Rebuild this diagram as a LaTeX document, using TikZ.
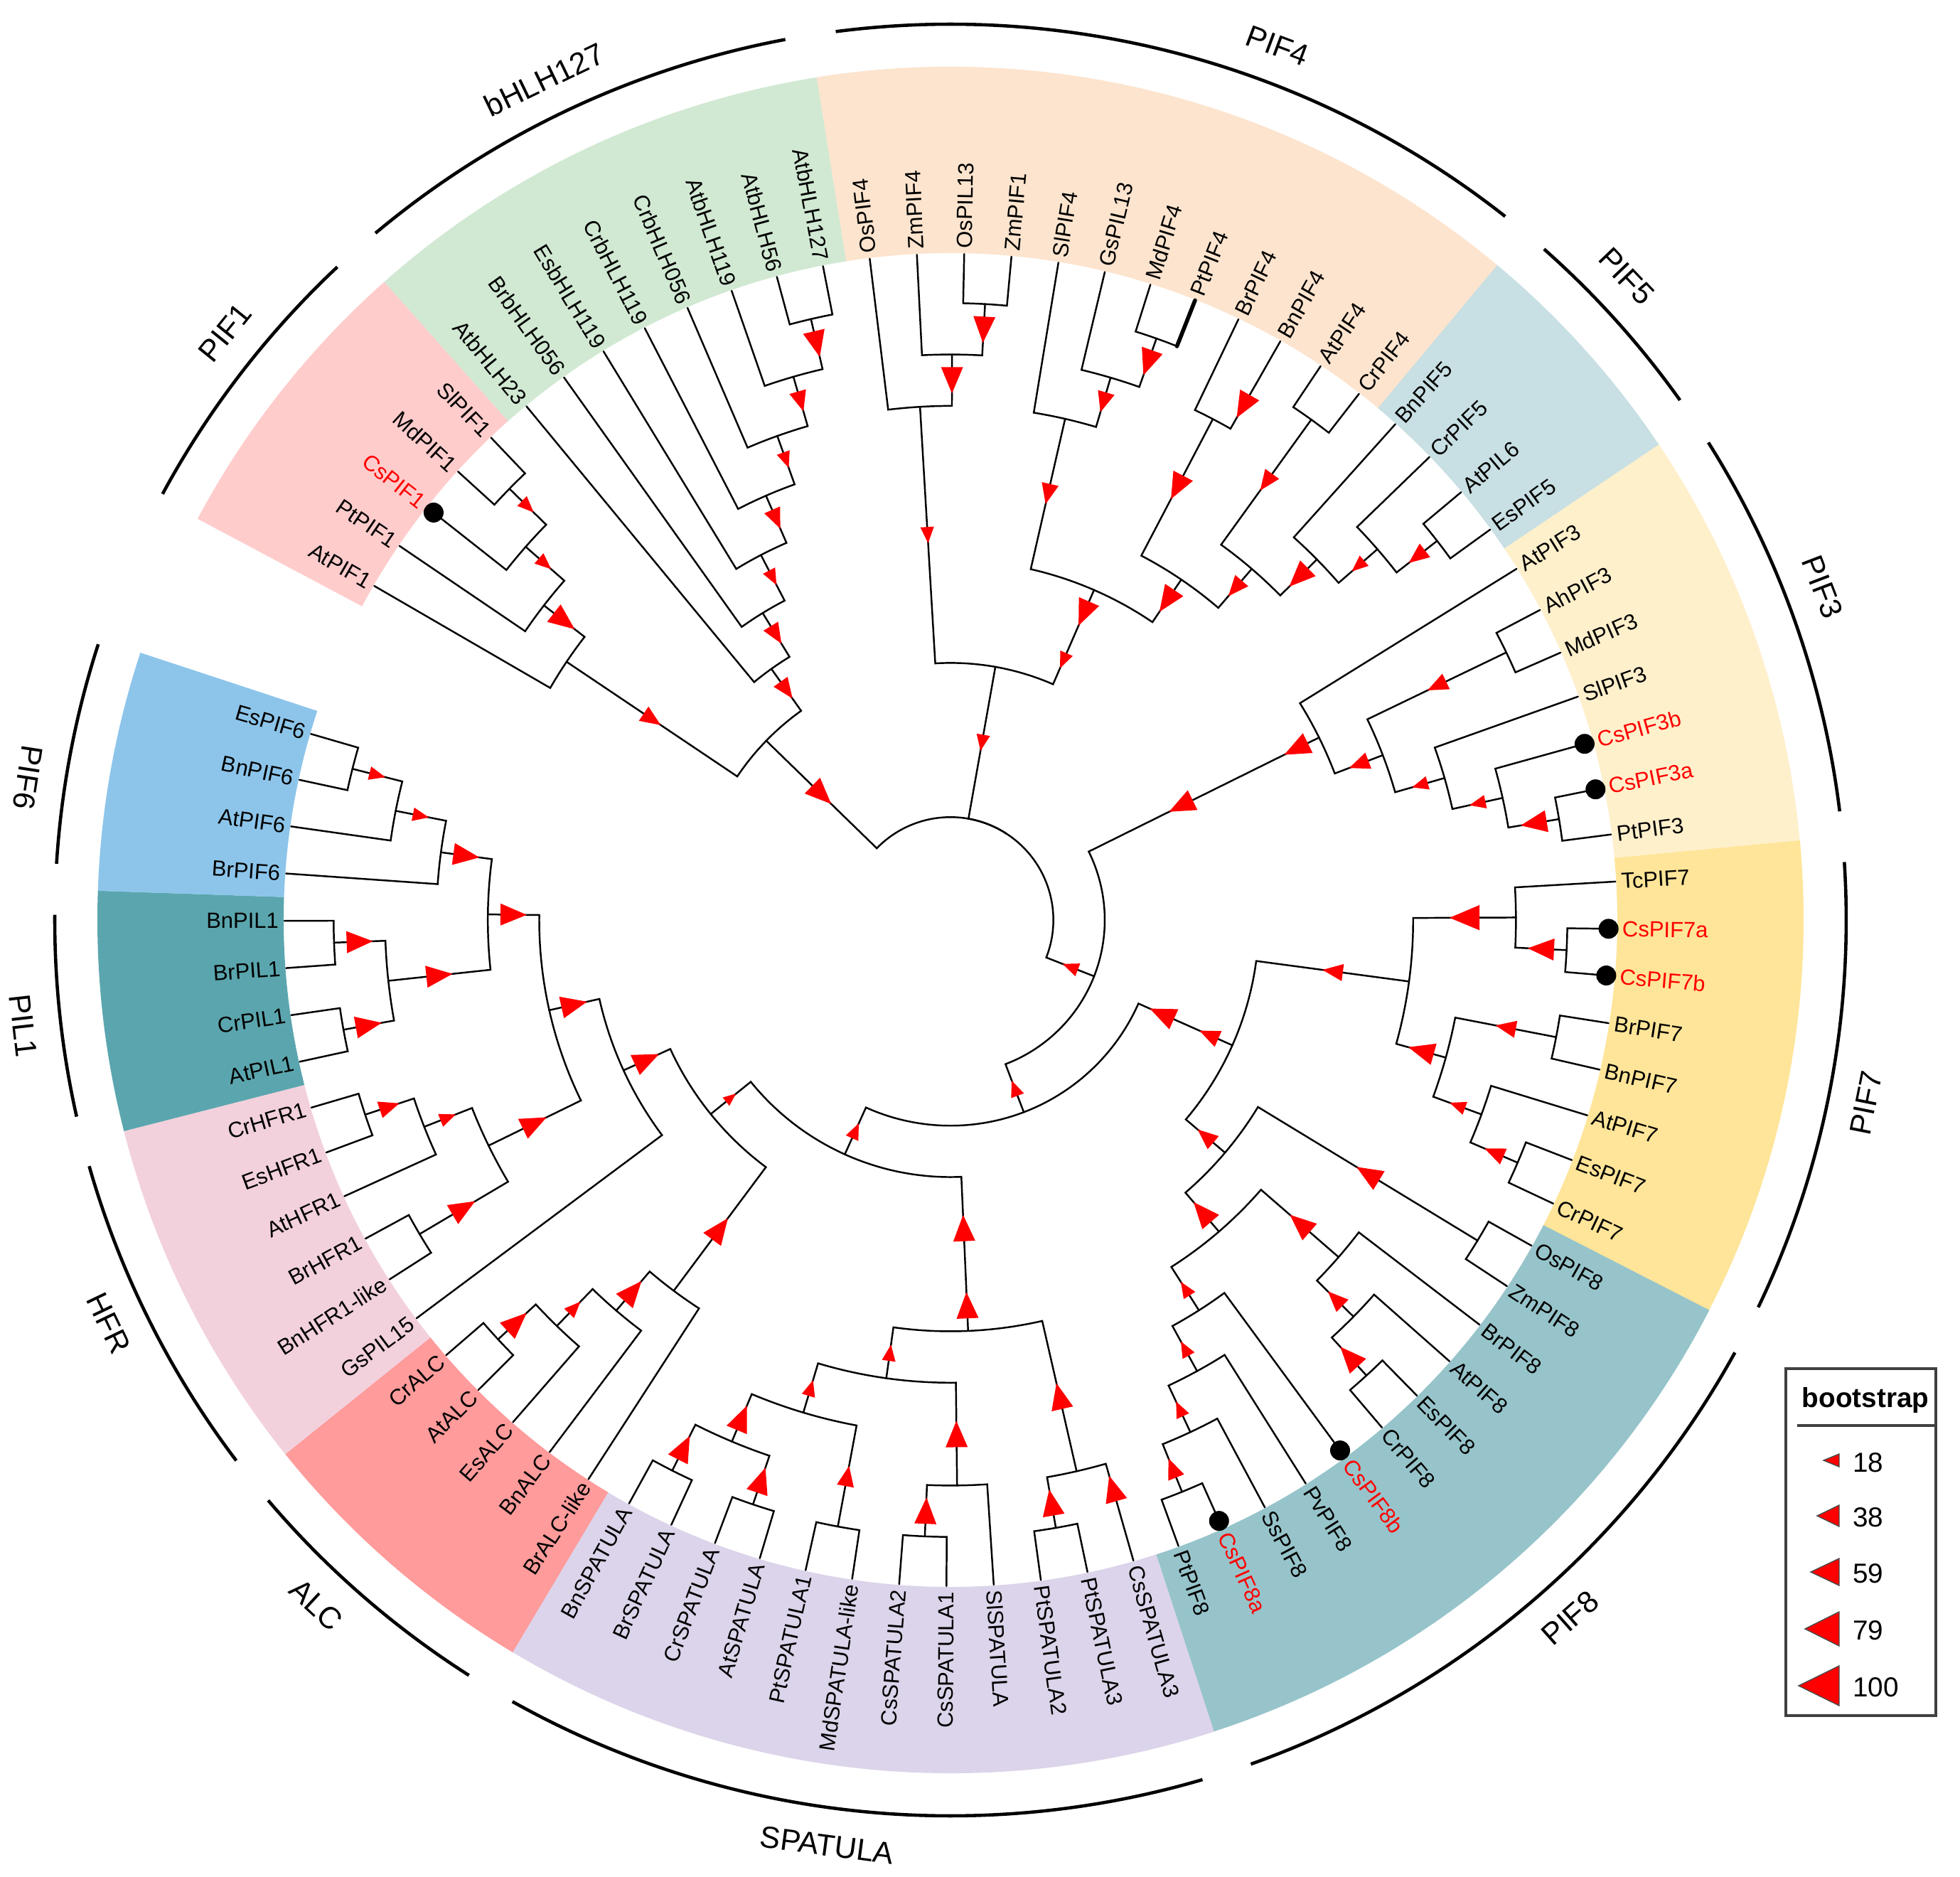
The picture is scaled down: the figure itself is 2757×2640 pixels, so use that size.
\documentclass[tikz,border=0pt]{standalone}
\usepackage{fontspec}
\setmainfont{Liberation Sans}
\usetikzlibrary{calc}
\definecolor{cpifone}{HTML}{FFCCCC}
\definecolor{cbhlh}{HTML}{D1E9D3}
\definecolor{cpiffour}{HTML}{FDE4CE}
\definecolor{cpiffive}{HTML}{C8DFE3}
\definecolor{cpifthree}{HTML}{FFF0CC}
\definecolor{cpifseven}{HTML}{FFE599}
\definecolor{cpifeight}{HTML}{96C4CA}
\definecolor{cspatula}{HTML}{DCD4EA}
\definecolor{calcband}{HTML}{FF9B9B}
\definecolor{chfr}{HTML}{F2D1DC}
\definecolor{cpilone}{HTML}{5BA6AE}
\definecolor{cpifsix}{HTML}{8DC5EA}
\definecolor{bootred}{HTML}{FF0000}
\tikzstyle{branch}=[to path={let \p1=(\tikztostart), \p2=(\tikztotarget),
    \n1={atan2(\y1,\x1)}, \n2={atan2(\y2,\x2)}, \n3={veclen(\x1,\y1)},
    \n4={\n2-\n1-360*round((\n2-\n1)/360)} in
    arc[start angle=\n1, delta angle=\n4, radius=\n3] -- (\tikztotarget)}]
\tikzstyle{leaf}=[inner sep=0pt, font=\fontsize{8.8}{10}\selectfont]
\tikzstyle{grp}=[inner sep=0pt, font=\fontsize{12.2}{14}\selectfont]
\tikzstyle{grp-arc}=[line width=1.3pt, line cap=butt]
\tikzstyle{legend}=[inner sep=0pt, font=\fontsize{11}{13}\selectfont]
\tikzstyle{legend-tri}=[fill=bootred, draw=black!70, line width=0.4pt, line join=miter]
\tikzset{pics/boot/.style={code={\fill[bootred] (-#1/2,0pt) -- (#1/2,0.42*#1) -- (#1/2,-0.42*#1) -- cycle;}}}
\newcommand{\boot}[3]{\path let \p1=(#1), \p2=(#2), \n1={atan2(\y1,\x1)},
    \n2={(veclen(\x1,\y1)+veclen(\x2,\y2))/2} in (\n1:\n2) pic[rotate=\n1] {boot=#3};}
\newcommand{\band}[3]{\fill[#3] (#1:938) arc[start angle=#1, end angle=#2, radius=9.38cm]
    -- (#2:1200) arc[start angle=#2, end angle=#1, radius=12cm] -- cycle;}
\begin{document}
\begin{tikzpicture}[x=0.01cm, y=0.01cm, line width=0.7pt, line cap=round]
\fill[white] (-1337,-1346) rectangle (1420,1294);
\useasboundingbox (-1337,-1346) rectangle (1420,1294);

\band{151.94}{131.57}{cpifone}
\band{131.57}{99.0}{cbhlh}
\band{99.0}{50.13}{cpiffour}
\band{50.13}{33.85}{cpiffive}
\band{33.85}{5.34}{cpifthree}
\band{5.34}{-27.23}{cpifseven}
\band{-27.23}{-72.03}{cpifeight}
\band{-72.03}{-120.89}{cspatula}
\band{-120.89}{-141.25}{calcband}
\band{-141.25}{-165.68}{chfr}
\band{-165.68}{-181.97}{cpilone}
\band{-181.97}{-198.26}{cpifsix}

\draw[grp-arc] (151.6:1260) arc[start angle=151.6, end angle=133.21, radius=12.6cm];
\node[grp, rotate=51] (gPIFone) at (141:1313) {PIF1};
\draw[grp-arc] (129.94:1260) arc[start angle=129.94, end angle=100.64, radius=12.6cm];
\node[grp, rotate=25.8] (gbHLH) at (115.8:1313) {bHLH127};
\draw[grp-arc] (97.36:1260) arc[start angle=97.36, end angle=51.77, radius=12.6cm];
\node[grp, rotate=-20.5] (gPIFfour) at (69.5:1313) {PIF4};
\draw[grp-arc] (48.5:1260) arc[start angle=48.5, end angle=35.48, radius=12.6cm];
\node[grp, rotate=-46.4] (gPIFfive) at (43.6:1313) {PIF5};
\draw[grp-arc] (32.21:1260) arc[start angle=32.21, end angle=6.98, radius=12.6cm];
\node[grp, rotate=-69.1] (gPIFthree) at (20.9:1313) {PIF3};
\draw[grp-arc] (3.71:1260) arc[start angle=3.71, end angle=-25.6, radius=12.6cm];
\node[grp, rotate=78.7] (gPIFseven) at (-11.3:1313) {PIF7};
\draw[grp-arc] (-28.87:1260) arc[start angle=-28.87, end angle=-70.39, radius=12.6cm];
\node[grp, rotate=41.6] (gPIFeight) at (-48.4:1313) {PIF8};
\draw[grp-arc] (-73.66:1260) arc[start angle=-73.66, end angle=-119.25, radius=12.6cm];
\node[grp, rotate=-7.6] (gSPATULA) at (-97.6:1313) {SPATULA};
\draw[grp-arc] (-122.52:1260) arc[start angle=-122.52, end angle=-139.61, radius=12.6cm];
\node[grp, rotate=-42.8] (gALC) at (-132.8:1313) {ALC};
\draw[grp-arc] (-142.88:1260) arc[start angle=-142.88, end angle=-164.04, radius=12.6cm];
\node[grp, rotate=-64.4] (gHFR) at (-154.4:1313) {HFR};
\draw[grp-arc] (-167.32:1260) arc[start angle=-167.32, end angle=-180.33, radius=12.6cm];
\node[grp, rotate=-83.5] (gPILone) at (-173.5:1313) {PIL1};
\draw[grp-arc] (-183.6:1260) arc[start angle=-183.6, end angle=-197.92, radius=12.6cm];
\node[grp, rotate=-98.8] (gPIFsix) at (-188.8:1313) {PIF6};

\foreach \nm/\txt/\col [count=\i from 0] in {AtPIF1/AtPIF1/black,PtPIF1/PtPIF1/black,CsPIF1/CsPIF1/red,MdPIF1/MdPIF1/black,SlPIF1/SlPIF1/black,
  AtbHLH23/AtbHLH23/black,BrbHLH056/BrbHLH056/black,EsbHLH119/EsbHLH119/black,CrbHLH119/CrbHLH119/black,CrbHLH056/CrbHLH056/black,AtbHLH119/AtbHLH119/black,AtbHLH56/AtbHLH56/black,AtbHLH127/AtbHLH127/black,
  OsPIF4/OsPIF4/black,ZmPIF4/ZmPIF4/black,OsPIL13/OsPIL13/black,ZmPIF1/ZmPIF1/black,SlPIF4/SlPIF4/black,GsPIL13/GsPIL13/black,MdPIF4/MdPIF4/black,PtPIF4/PtPIF4/black,BrPIF4/BrPIF4/black,BnPIF4/BnPIF4/black,AtPIF4/AtPIF4/black,CrPIF4/CrPIF4/black,
  BnPIF5/BnPIF5/black,CrPIF5/CrPIF5/black,AtPIL6/AtPIL6/black,EsPIF5/EsPIF5/black,
  AtPIF3/AtPIF3/black,AhPIF3/AhPIF3/black,MdPIF3/MdPIF3/black,SlPIF3/SlPIF3/black,CsPIF3b/CsPIF3b/red,CsPIF3a/CsPIF3a/red,PtPIF3/PtPIF3/black,
  TcPIF7/TcPIF7/black,CsPIF7a/CsPIF7a/red,CsPIF7b/CsPIF7b/red,BrPIF7/BrPIF7/black,BnPIF7/BnPIF7/black,AtPIF7/AtPIF7/black,EsPIF7/EsPIF7/black,CrPIF7/CrPIF7/black,
  OsPIF8/OsPIF8/black,ZmPIF8/ZmPIF8/black,BrPIF8/BrPIF8/black,AtPIF8/AtPIF8/black,EsPIF8/EsPIF8/black,CrPIF8/CrPIF8/black,CsPIF8b/CsPIF8b/red,PvPIF8/PvPIF8/black,SsPIF8/SsPIF8/black,CsPIF8a/CsPIF8a/red,PtPIF8/PtPIF8/black,
  CsSPATULA3/CsSPATULA3/black,PtSPATULA3/PtSPATULA3/black,PtSPATULA2/PtSPATULA2/black,SlSPATULA/SlSPATULA/black,CsSPATULA1/CsSPATULA1/black,CsSPATULA2/CsSPATULA2/black,MdSPATULAlike/MdSPATULA-like/black,PtSPATULA1/PtSPATULA1/black,AtSPATULA/AtSPATULA/black,CrSPATULA/CrSPATULA/black,BrSPATULA/BrSPATULA/black,BnSPATULA/BnSPATULA/black,
  BrALClike/BrALC-like/black,BnALC/BnALC/black,EsALC/EsALC/black,AtALC/AtALC/black,CrALC/CrALC/black,
  GsPIL15/GsPIL15/black,BnHFRlike/BnHFR1-like/black,BrHFR1/BrHFR1/black,AtHFR1/AtHFR1/black,EsHFR1/EsHFR1/black,CrHFR1/CrHFR1/black,
  AtPIL1/AtPIL1/black,CrPIL1/CrPIL1/black,BrPIL1/BrPIL1/black,BnPIL1/BnPIL1/black,
  BrPIF6/BrPIF6/black,AtPIF6/AtPIF6/black,BnPIF6/BnPIF6/black,EsPIF6/EsPIF6/black}{
  \pgfmathsetmacro{\ang}{149.9-4.072*\i}
  \coordinate (\nm) at (\ang:937);
  \ifnum\i<13 \def\flip{1}\else\ifnum\i>58 \def\flip{1}\else\def\flip{0}\fi\fi
  \ifnum\flip=1
    \node[leaf, text=\col, rotate=\ang+180, anchor=east] (t\nm) at (\ang:944) {\txt};
  \else
    \node[leaf, text=\col, rotate=\ang, anchor=west] (t\nm) at (\ang:944) {\txt};
  \fi
}

\coordinate (f1) at (135.645:867.7);
\coordinate (f2) at (138.70:795.4);
\coordinate (f3) at (142.27:723.1);
\coordinate (f4) at (146.08:650.8);
\coordinate (b1) at (103.075:867.7);
\coordinate (b2) at (106.13:795.4);
\coordinate (b3) at (109.69:723.1);
\coordinate (b4) at (113.505:650.8);
\coordinate (b5) at (117.45:578.5);
\coordinate (b6) at (121.46:506.2);
\coordinate (b7) at (125.50:433.9);
\coordinate (nA) at (135.79:361.6);
\coordinate (m1) at (86.785:867.7);
\coordinate (m2) at (89.84:795.4);
\coordinate (m3) at (93.40:723.1);
\coordinate (d1) at (70.495:867.7);
\coordinate (d2) at (73.55:795.4);
\coordinate (d3) at (77.115:723.1);
\coordinate (u22) at (60.32:867.7);
\coordinate (d4) at (62.355:795.4);
\coordinate (d5) at (54.205:867.7);
\coordinate (p1) at (37.92:867.7);
\coordinate (p2) at (40.975:795.4);
\coordinate (p3) at (44.54:723.1);
\coordinate (p4) at (49.37:650.8);
\coordinate (p5) at (55.86:578.5);
\coordinate (p6) at (66.49:506.2);
\coordinate (p7) at (66.49:433.9);
\coordinate (p8) at (79.945:361.6);
\coordinate (c1) at (25.705:867.7);
\coordinate (c1b) at (9.415:867.7);
\coordinate (c2) at (12.47:795.4);
\coordinate (c3) at (16.035:723.1);
\coordinate (c4) at (20.87:650.8);
\coordinate (c5) at (26.34:578.5);
\coordinate (c6) at (26.34:506.2);
\coordinate (s7a) at (-2.80:867.7);
\coordinate (s7b) at (0.255:795.4);
\coordinate (s7c) at (-10.945:867.7);
\coordinate (s7d) at (-23.16:867.7);
\coordinate (s7e) at (-20.105:795.4);
\coordinate (s7f) at (-15.525:723.1);
\coordinate (s7g) at (-7.635:650.8);
\coordinate (e1) at (-31.305:867.7);
\coordinate (e2) at (-47.595:867.7);
\coordinate (e3) at (-44.54:795.4);
\coordinate (e4) at (-40.975:723.1);
\coordinate (e5) at (-67.955:867.7);
\coordinate (e6) at (-64.90:795.4);
\coordinate (e7) at (-61.335:723.1);
\coordinate (e8) at (-57.52:650.8);
\coordinate (e9) at (-49.25:578.5);
\coordinate (e10) at (-40.28:506.2);
\coordinate (g7) at (-23.96:433.9);
\coordinate (g8) at (-23.96:361.6);
\coordinate (u55) at (-74.06:867.7);
\coordinate (t1) at (-80.165:867.7);
\coordinate (t2) at (-77.11:795.4);
\coordinate (t3) at (-92.385:867.7);
\coordinate (t4) at (-89.33:795.4);
\coordinate (t5) at (-100.525:867.7);
\coordinate (t6) at (-108.675:867.7);
\coordinate (t7) at (-116.815:867.7);
\coordinate (t8) at (-112.745:795.4);
\coordinate (t9) at (-106.635:723.1);
\coordinate (t10) at (-97.98:650.8);
\coordinate (t11) at (-87.545:578.5);
\coordinate (t12) at (-87.545:506.2);
\coordinate (a1) at (-137.175:867.7);
\coordinate (a2) at (-134.12:795.4);
\coordinate (a3) at (-130.56:723.1);
\coordinate (a4) at (-126.74:650.8);
\coordinate (r1) at (-161.605:867.7);
\coordinate (r2) at (-158.55:795.4);
\coordinate (r3) at (-149.395:867.7);
\coordinate (r4) at (-153.97:723.1);
\coordinate (l1) at (-169.755:867.7);
\coordinate (l2) at (-177.895:867.7);
\coordinate (l3) at (-173.825:795.4);
\coordinate (k1) at (-194.185:867.7);
\coordinate (k2) at (-191.13:795.4);
\coordinate (k3) at (-187.565:723.1);
\coordinate (j4) at (-180.695:650.8);
\coordinate (j5) at (-167.33:578.5);
\coordinate (j6) at (-155.305:506.2);
\coordinate (j7) at (-141.02:433.9);
\coordinate (j8) at (-114.28:361.6);
\coordinate (nE) at (-69.12:289.3);
\coordinate (nB) at (-21.39:217.0);
\coordinate (root) at (57.2:144.7);

\draw (root) to[branch] (nA);
\draw (root) to[branch] (p8);
\draw (root) to[branch] (nB);
\draw (nA) to[branch] (f4);
\draw (nA) to[branch] (b7);
\draw (f4) to[branch] (AtPIF1);
\draw (f4) to[branch] (f3);
\draw (f3) to[branch] (PtPIF1);
\draw (f3) to[branch] (f2);
\draw (f2) to[branch] (CsPIF1);
\draw (f2) to[branch] (f1);
\draw (f1) to[branch] (MdPIF1);
\draw (f1) to[branch] (SlPIF1);
\draw (b7) to[branch] (AtbHLH23);
\draw (b7) to[branch] (b6);
\draw (b6) to[branch] (BrbHLH056);
\draw (b6) to[branch] (b5);
\draw (b5) to[branch] (EsbHLH119);
\draw (b5) to[branch] (b4);
\draw (b4) to[branch] (CrbHLH119);
\draw (b4) to[branch] (b3);
\draw (b3) to[branch] (CrbHLH056);
\draw (b3) to[branch] (b2);
\draw (b2) to[branch] (AtbHLH119);
\draw (b2) to[branch] (b1);
\draw (b1) to[branch] (AtbHLH56);
\draw (b1) to[branch] (AtbHLH127);
\draw (p8) to[branch] (m3);
\draw (p8) to[branch] (p7);
\draw (m3) to[branch] (OsPIF4);
\draw (m3) to[branch] (m2);
\draw (m2) to[branch] (ZmPIF4);
\draw (m2) to[branch] (m1);
\draw (m1) to[branch] (OsPIL13);
\draw (m1) to[branch] (ZmPIF1);
\draw (p7) to[branch] (p6);
\draw (p6) to[branch] (d3);
\draw (p6) to[branch] (p5);
\draw (d3) to[branch] (SlPIF4);
\draw (d3) to[branch] (d2);
\draw (d2) to[branch] (GsPIL13);
\draw (d2) to[branch] (d1);
\draw (d1) to[branch] (MdPIF4);
\draw (d1) to[branch] (PtPIF4);
\draw[line width=1.6pt] (68.46:867.7) -- (PtPIF4);
\draw (p5) to[branch] (d4);
\draw (p5) to[branch] (p4);
\draw (d4) to[branch] (BrPIF4);
\draw (d4) to[branch] (u22);
\draw (u22) to[branch] (BnPIF4);
\draw (p4) to[branch] (d5);
\draw (p4) to[branch] (p3);
\draw (d5) to[branch] (AtPIF4);
\draw (d5) to[branch] (CrPIF4);
\draw (p3) to[branch] (BnPIF5);
\draw (p3) to[branch] (p2);
\draw (p2) to[branch] (CrPIF5);
\draw (p2) to[branch] (p1);
\draw (p1) to[branch] (AtPIL6);
\draw (p1) to[branch] (EsPIF5);
\draw (nB) to[branch] (c6);
\draw (nB) to[branch] (nE);
\draw (c6) to[branch] (c5);
\draw (c5) to[branch] (AtPIF3);
\draw (c5) to[branch] (c4);
\draw (c4) to[branch] (c1);
\draw (c4) to[branch] (c3);
\draw (c1) to[branch] (AhPIF3);
\draw (c1) to[branch] (MdPIF3);
\draw (c3) to[branch] (SlPIF3);
\draw (c3) to[branch] (c2);
\draw (c2) to[branch] (CsPIF3b);
\draw (c2) to[branch] (c1b);
\draw (c1b) to[branch] (CsPIF3a);
\draw (c1b) to[branch] (PtPIF3);
\draw (nE) to[branch] (g8);
\draw (nE) to[branch] (j8);
\draw (g8) to[branch] (g7);
\draw (g7) to[branch] (s7g);
\draw (g7) to[branch] (e10);
\draw (s7g) to[branch] (s7b);
\draw (s7g) to[branch] (s7f);
\draw (s7b) to[branch] (TcPIF7);
\draw (s7b) to[branch] (s7a);
\draw (s7a) to[branch] (CsPIF7a);
\draw (s7a) to[branch] (CsPIF7b);
\draw (s7f) to[branch] (s7c);
\draw (s7f) to[branch] (s7e);
\draw (s7c) to[branch] (BrPIF7);
\draw (s7c) to[branch] (BnPIF7);
\draw (s7e) to[branch] (AtPIF7);
\draw (s7e) to[branch] (s7d);
\draw (s7d) to[branch] (EsPIF7);
\draw (s7d) to[branch] (CrPIF7);
\draw (e10) to[branch] (e1);
\draw (e10) to[branch] (e9);
\draw (e1) to[branch] (OsPIF8);
\draw (e1) to[branch] (ZmPIF8);
\draw (e9) to[branch] (e4);
\draw (e9) to[branch] (e8);
\draw (e4) to[branch] (BrPIF8);
\draw (e4) to[branch] (e3);
\draw (e3) to[branch] (AtPIF8);
\draw (e3) to[branch] (e2);
\draw (e2) to[branch] (EsPIF8);
\draw (e2) to[branch] (CrPIF8);
\draw (e8) to[branch] (CsPIF8b);
\draw (e8) to[branch] (e7);
\draw (e7) to[branch] (PvPIF8);
\draw (e7) to[branch] (e6);
\draw (e6) to[branch] (SsPIF8);
\draw (e6) to[branch] (e5);
\draw (e5) to[branch] (CsPIF8a);
\draw (e5) to[branch] (PtPIF8);
\draw (j8) to[branch] (t12);
\draw (j8) to[branch] (j7);
\draw (t12) to[branch] (t11);
\draw (t11) to[branch] (t10);
\draw (t11) to[branch] (t2);
\draw (t2) to[branch] (t1);
\draw (t2) to[branch] (u55);
\draw (u55) to[branch] (CsSPATULA3);
\draw (t1) to[branch] (PtSPATULA3);
\draw (t1) to[branch] (PtSPATULA2);
\draw (t10) to[branch] (t9);
\draw (t10) to[branch] (t4);
\draw (t4) to[branch] (SlSPATULA);
\draw (t4) to[branch] (t3);
\draw (t3) to[branch] (CsSPATULA1);
\draw (t3) to[branch] (CsSPATULA2);
\draw (t9) to[branch] (t5);
\draw (t9) to[branch] (t8);
\draw (t5) to[branch] (MdSPATULAlike);
\draw (t5) to[branch] (PtSPATULA1);
\draw (t8) to[branch] (t6);
\draw (t8) to[branch] (t7);
\draw (t6) to[branch] (AtSPATULA);
\draw (t6) to[branch] (CrSPATULA);
\draw (t7) to[branch] (BrSPATULA);
\draw (t7) to[branch] (BnSPATULA);
\draw (j7) to[branch] (a4);
\draw (j7) to[branch] (j6);
\draw (a4) to[branch] (BrALClike);
\draw (a4) to[branch] (a3);
\draw (a3) to[branch] (BnALC);
\draw (a3) to[branch] (a2);
\draw (a2) to[branch] (EsALC);
\draw (a2) to[branch] (a1);
\draw (a1) to[branch] (AtALC);
\draw (a1) to[branch] (CrALC);
\draw (j6) to[branch] (GsPIL15);
\draw (j6) to[branch] (j5);
\draw (j5) to[branch] (r4);
\draw (j5) to[branch] (j4);
\draw (r4) to[branch] (r2);
\draw (r4) to[branch] (r3);
\draw (r2) to[branch] (AtHFR1);
\draw (r2) to[branch] (r1);
\draw (r1) to[branch] (EsHFR1);
\draw (r1) to[branch] (CrHFR1);
\draw (r3) to[branch] (BnHFRlike);
\draw (r3) to[branch] (BrHFR1);
\draw (j4) to[branch] (l3);
\draw (j4) to[branch] (k3);
\draw (l3) to[branch] (l1);
\draw (l3) to[branch] (l2);
\draw (l1) to[branch] (AtPIL1);
\draw (l1) to[branch] (CrPIL1);
\draw (l2) to[branch] (BrPIL1);
\draw (l2) to[branch] (BnPIL1);
\draw (k3) to[branch] (BrPIF6);
\draw (k3) to[branch] (k2);
\draw (k2) to[branch] (AtPIF6);
\draw (k2) to[branch] (k1);
\draw (k1) to[branch] (BnPIF6);
\draw (k1) to[branch] (EsPIF6);

\foreach \nm in {CsPIF1,CsPIF3b,CsPIF3a,CsPIF7a,CsPIF7b,CsPIF8b,CsPIF8a}
  \fill ($(\nm)!0.012!(0,0)$) circle[radius=0.14cm];

\boot{f1}{f2}{6.5pt}
\boot{f2}{f3}{6.5pt}
\boot{f3}{f4}{10.5pt}
\boot{f4}{nA}{8.2pt}
\boot{b1}{b2}{10.5pt}
\boot{b2}{b3}{8.2pt}
\boot{b3}{b4}{6.5pt}
\boot{b4}{b5}{8.2pt}
\boot{b5}{b6}{6.5pt}
\boot{b6}{b7}{8.2pt}
\boot{b7}{nA}{8.2pt}
\boot{nA}{root}{10.5pt}
\boot{p8}{root}{6.5pt}
\boot{nB}{root}{6.5pt}
\boot{m1}{m2}{10.5pt}
\boot{m2}{m3}{10.5pt}
\boot{m3}{p8}{6.5pt}
\boot{p7}{p8}{6.5pt}
\boot{p6}{p7}{10.5pt}
\boot{d1}{d2}{10.5pt}
\boot{d2}{d3}{8.2pt}
\boot{d3}{p6}{8.2pt}
\boot{p5}{p6}{10.5pt}
\boot{u22}{d4}{10.5pt}
\boot{d4}{p5}{10.5pt}
\boot{p4}{p5}{8.2pt}
\boot{d5}{p4}{8.2pt}
\boot{p3}{p4}{10.5pt}
\boot{p2}{p3}{6.5pt}
\boot{p1}{p2}{8.2pt}
\boot{c6}{nB}{10.5pt}
\boot{c5}{c6}{10.5pt}
\boot{c4}{c5}{8.2pt}
\boot{c1}{c4}{8.2pt}
\boot{c3}{c4}{6.5pt}
\boot{c2}{c3}{6.5pt}
\boot{c1b}{c2}{10.5pt}
\boot{nE}{nB}{6.5pt}
\boot{g8}{nE}{10.5pt}
\boot{g7}{g8}{8.2pt}
\boot{s7g}{g7}{8.2pt}
\boot{s7b}{s7g}{12pt}
\boot{s7a}{s7b}{10.5pt}
\boot{s7f}{s7g}{10.5pt}
\boot{s7c}{s7f}{8.2pt}
\boot{s7e}{s7f}{6.5pt}
\boot{s7d}{s7e}{8.2pt}
\boot{e10}{g7}{8.2pt}
\boot{e1}{e10}{10.5pt}
\boot{e9}{e10}{10.5pt}
\boot{e4}{e9}{10.5pt}
\boot{e3}{e4}{8.2pt}
\boot{e2}{e3}{10.5pt}
\boot{e8}{e9}{6.5pt}
\boot{e7}{e8}{6.5pt}
\boot{e6}{e7}{6.5pt}
\boot{e5}{e6}{8.2pt}
\boot{j8}{nE}{6.5pt}
\boot{t12}{j8}{10.5pt}
\boot{t11}{t12}{10.5pt}
\boot{t2}{t11}{10.5pt}
\boot{t1}{t2}{10.5pt}
\boot{u55}{t2}{10.5pt}
\boot{t10}{t11}{6.5pt}
\boot{t4}{t10}{10.5pt}
\boot{t3}{t4}{10.5pt}
\boot{t9}{t10}{6.5pt}
\boot{t5}{t9}{8.2pt}
\boot{t8}{t9}{10.5pt}
\boot{t6}{t8}{10.5pt}
\boot{t7}{t8}{10.5pt}
\boot{j7}{j8}{5.1pt}
\boot{a4}{j7}{10.5pt}
\boot{a3}{a4}{10.5pt}
\boot{a2}{a3}{6.5pt}
\boot{a1}{a2}{10.5pt}
\boot{j6}{j7}{10.5pt}
\boot{j5}{j6}{10.5pt}
\boot{r4}{j5}{10.5pt}
\boot{r2}{r4}{6.5pt}
\boot{r1}{r2}{8.2pt}
\boot{r3}{r4}{10.5pt}
\boot{j4}{j5}{10.5pt}
\boot{l3}{j4}{10.5pt}
\boot{l1}{l3}{10.5pt}
\boot{l2}{l3}{10.5pt}
\boot{k3}{j4}{10.5pt}
\boot{k2}{k3}{6.5pt}
\boot{k1}{k2}{6.5pt}

\draw[line width=0.9pt, draw=black!75, line cap=butt] (1175,-631) rectangle (1386,-1119);
\node[legend, font=\fontsize{11}{13}\selectfont\bfseries] (legtitle) at (1287,-676) {bootstrap};
\draw[line width=0.9pt, draw=black!75, line cap=butt] (1191,-711) -- (1386,-711);
\filldraw[legend-tri] (1250,-751) -- (1228,-760) -- (1250,-769) -- cycle;
\node[legend, anchor=west] (leg18) at (1268,-763) {18};
\filldraw[legend-tri] (1250,-823) -- (1219,-838) -- (1250,-853) -- cycle;
\node[legend, anchor=west] (leg38) at (1268,-840) {38};
\filldraw[legend-tri] (1250,-898) -- (1210,-917) -- (1250,-936) -- cycle;
\node[legend, anchor=west] (leg59) at (1268,-919) {59};
\filldraw[legend-tri] (1250,-973) -- (1202,-997) -- (1250,-1021) -- cycle;
\node[legend, anchor=west] (leg79) at (1268,-999) {79};
\filldraw[legend-tri] (1250,-1049) -- (1193,-1077) -- (1250,-1105) -- cycle;
\node[legend, anchor=west] (leg100) at (1268,-1079) {100};
\end{tikzpicture}
\end{document}
